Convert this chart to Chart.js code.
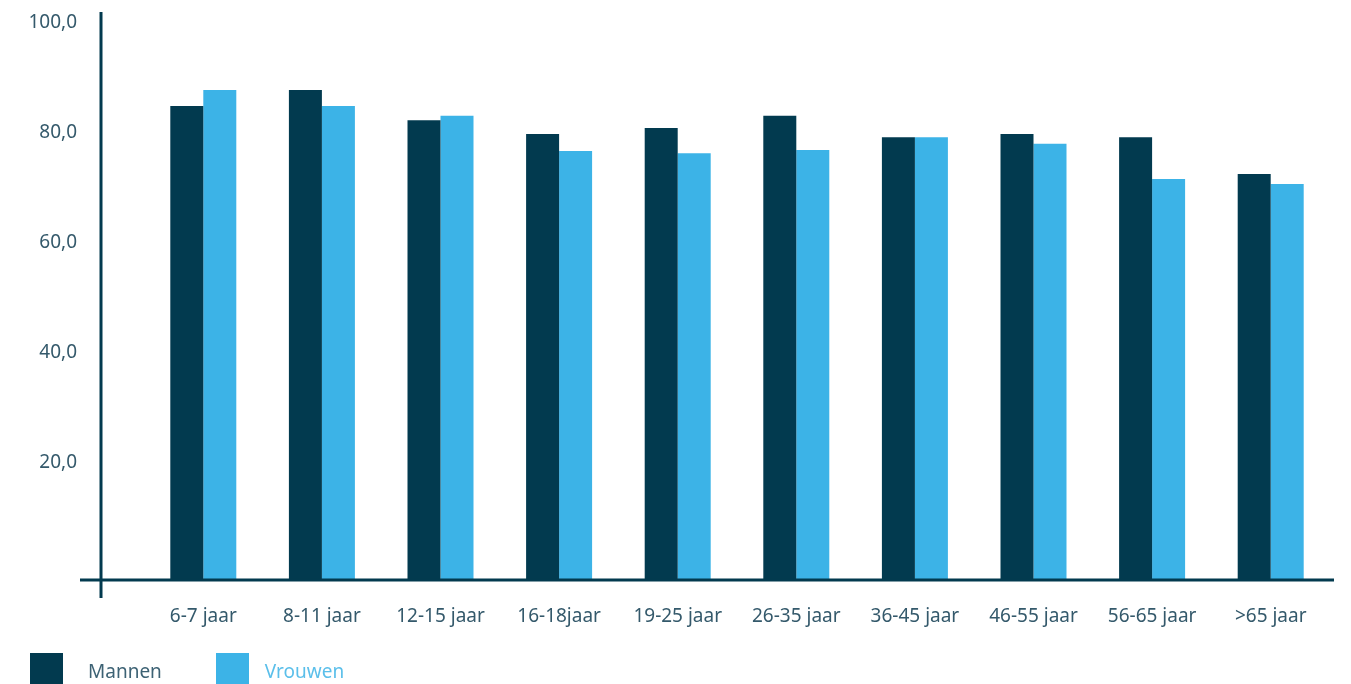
<!DOCTYPE html>
<html lang="nl">
<head>
    <meta charset="UTF-8">
    <title>Mannen en vrouwen per leeftijd</title>
    <style>
        html, body { margin: 0; padding: 0; background: #fff; overflow: hidden; }
        #wrap { position: relative; width: 1351px; height: 684px; }
        #legend { position: absolute; left: 30px; top: 653px; display: flex; font-family: "Noto Sans", sans-serif; font-size: 19px; }
        .item { display: flex; align-items: flex-start; }
        .box { width: 33px; height: 33px; display: inline-block; }
        .lbl { line-height: 36px; }
    </style>
    <script src="https://cdn.jsdelivr.net/npm/chart.js@4.4.0/dist/chart.umd.min.js"></script>
</head>
<body>
<div id="wrap">
    <canvas id="chart" width="1351" height="684"></canvas>
    <div id="legend"></div>
</div>
<script>
    const categories = ['6-7 jaar', '8-11 jaar', '12-15 jaar', '16-18jaar', '19-25 jaar', '26-35 jaar', '36-45 jaar', '46-55 jaar', '56-65 jaar', '>65 jaar'];
    const mannen  = [86.2, 89.1, 83.6, 81.1, 82.2, 84.4, 80.5, 81.1, 80.5, 73.8];
    const vrouwen = [89.1, 86.2, 84.4, 78.0, 77.6, 78.2, 80.5, 79.3, 72.9, 72.0];
    const yTicks = [20, 40, 60, 80, 100];

    const DARK = '#023a4f';
    const LIGHT = '#3cb3e7';
    const TEXT = '#34596b';

    // axis lines that cross each other, like the original
    const crossAxes = {
        id: 'crossAxes',
        afterDraw(chart) {
            const { ctx, chartArea } = chart;
            const y0 = chart.scales.y.getPixelForValue(0);
            ctx.save();
            ctx.strokeStyle = DARK;
            ctx.lineWidth = 3;
            ctx.beginPath();
            ctx.moveTo(chartArea.left - 43, chartArea.top - 18);
            ctx.lineTo(chartArea.left - 43, y0 + 18);
            ctx.moveTo(chartArea.left - 64, y0);
            ctx.lineTo(chartArea.right + 4, y0);
            ctx.stroke();
            ctx.restore();
        }
    };

    new Chart(document.getElementById('chart'), {
        type: 'bar',
        data: {
            labels: categories,
            datasets: [
                { label: 'Mannen', data: mannen, backgroundColor: DARK },
                { label: 'Vrouwen', data: vrouwen, backgroundColor: LIGHT }
            ]
        },
        options: {
            responsive: false,
            animation: false,
            categoryPercentage: 0.5565,
            barPercentage: 1.0,
            layout: { padding: { left: 10, right: 21, top: 30, bottom: 0 } },
            scales: {
                x: {
                    grid: { display: false },
                    border: { display: false },
                    ticks: {
                        color: TEXT,
                        font: { family: 'Noto Sans', size: 19 },
                        padding: 17,
                        maxRotation: 0,
                        autoSkip: false
                    },
                    afterFit(s) { s.height = 104; }
                },
                y: {
                    min: 0,
                    max: 100,
                    grid: { display: false, drawTicks: false },
                    border: { display: false },
                    afterBuildTicks(s) { s.ticks = [0].concat(yTicks).map(v => ({ value: v })); },
                    ticks: {
                        color: TEXT,
                        font: { family: 'Noto Sans', size: 19 },
                        padding: 67,
                        labelOffset: -7,
                        callback: v => v === 0 ? '' : v.toFixed(1).replace('.', ',')
                    },
                    afterFit(s) {
                        s.width = 134;
                        s.paddingTop = 0;
                        s.paddingBottom = 0;
                    }
                }
            },
            plugins: {
                legend: { display: false },
                tooltip: { enabled: false }
            }
        },
        plugins: [crossAxes]
    });

    const legendItems = [
        { label: 'Mannen', color: DARK, text: '#3d6274', gap: 25, after: 54 },
        { label: 'Vrouwen', color: LIGHT, text: '#5bbfea', gap: 16, after: 0 }
    ];
    document.getElementById('legend').innerHTML = legendItems.map(it => `
        <span class="item" style="margin-right:${it.after}px">
            <span class="box" style="background:${it.color}"></span>
            <span class="lbl" style="color:${it.text}; margin-left:${it.gap}px">${it.label}</span>
        </span>`).join('');
</script>
</body>
</html>
